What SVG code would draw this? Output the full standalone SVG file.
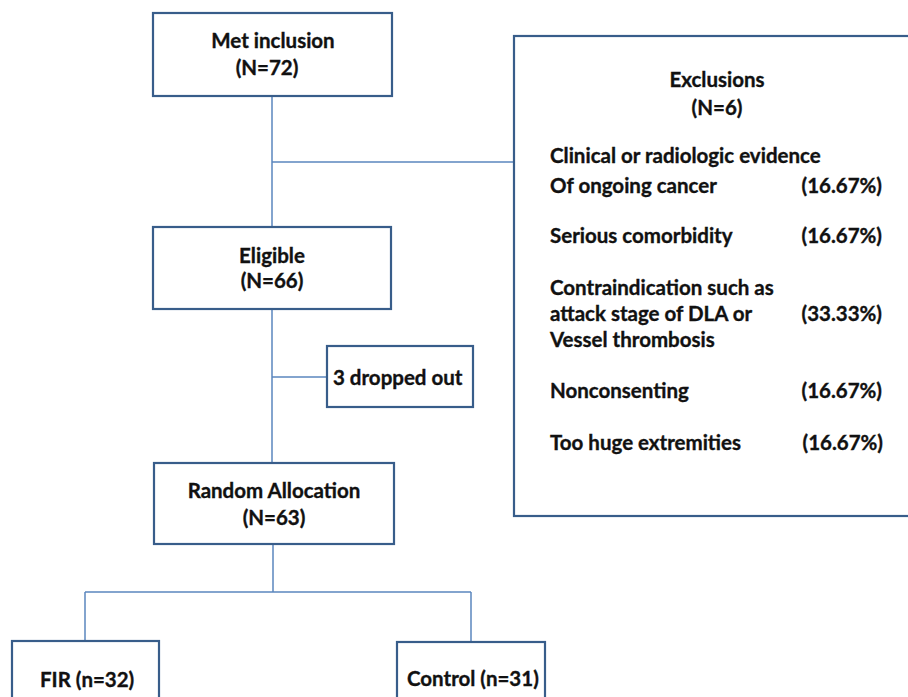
<svg xmlns="http://www.w3.org/2000/svg" width="908" height="697" viewBox="0 0 908 697">
<style>
.box{fill:#fff;stroke:#385D8A;stroke-width:2.2}
.ln{fill:none;stroke:#5B86BE;stroke-width:1.5}
text{font-family:Lato,"Liberation Sans",sans-serif;font-weight:bold;font-size:20.5px;fill:#111;stroke:#111;stroke-width:0.35}
.c{text-anchor:middle}
.r{text-anchor:end}
</style>
<rect width="908" height="697" fill="#fff"/>
<g id="connectors">
<path class="ln" d="M272 96 V227 M272 162 H514 M272 309 V463 M272 377 H327 M273 544 V592 M85 592 H471 M85 592 V641 M471 592 V642"/>
</g>
<g id="met">
<rect class="box" x="153" y="13" width="239" height="83"/>
<text class="c" x="273" y="48">Met inclusion</text>
<text class="c" x="267" y="75">(N=72)</text>
</g>
<g id="exclusions">
<rect class="box" x="514" y="36" width="400" height="480"/>
<text class="c" x="717" y="87">Exclusions</text>
<text class="c" x="717" y="115">(N=6)</text>
<text x="550" y="163">Clinical or radiologic evidence</text>
<text x="550" y="193">Of ongoing cancer</text>
<text class="r" x="882" y="193">(16.67%)</text>
<text x="550" y="243">Serious comorbidity</text>
<text class="r" x="882" y="243">(16.67%)</text>
<text x="550" y="295">Contraindication such as</text>
<text x="550" y="321">attack stage of DLA or</text>
<text class="r" x="882" y="321">(33.33%)</text>
<text x="550" y="347">Vessel thrombosis</text>
<text x="550" y="398">Nonconsenting</text>
<text class="r" x="882" y="398">(16.67%)</text>
<text x="550" y="450">Too huge extremities</text>
<text class="r" x="883" y="450">(16.67%)</text>
</g>
<g id="eligible">
<rect class="box" x="153" y="227" width="238" height="82"/>
<text class="c" x="272" y="263">Eligible</text>
<text class="c" x="272" y="288">(N=66)</text>
</g>
<g id="dropped">
<rect class="box" x="327" y="346" width="146" height="61"/>
<text x="333" y="385">3 dropped out</text>
</g>
<g id="random">
<rect class="box" x="154" y="463" width="240" height="81"/>
<text class="c" x="274" y="498">Random Allocation</text>
<text class="c" x="274" y="525">(N=63)</text>
</g>
<g id="fir">
<rect class="box" x="12" y="641" width="147" height="70"/>
<text x="40" y="687">FIR (n=32)</text>
</g>
<g id="control">
<rect class="box" x="397" y="642" width="148" height="70"/>
<text x="407" y="686">Control (n=31)</text>
</g>
</svg>
